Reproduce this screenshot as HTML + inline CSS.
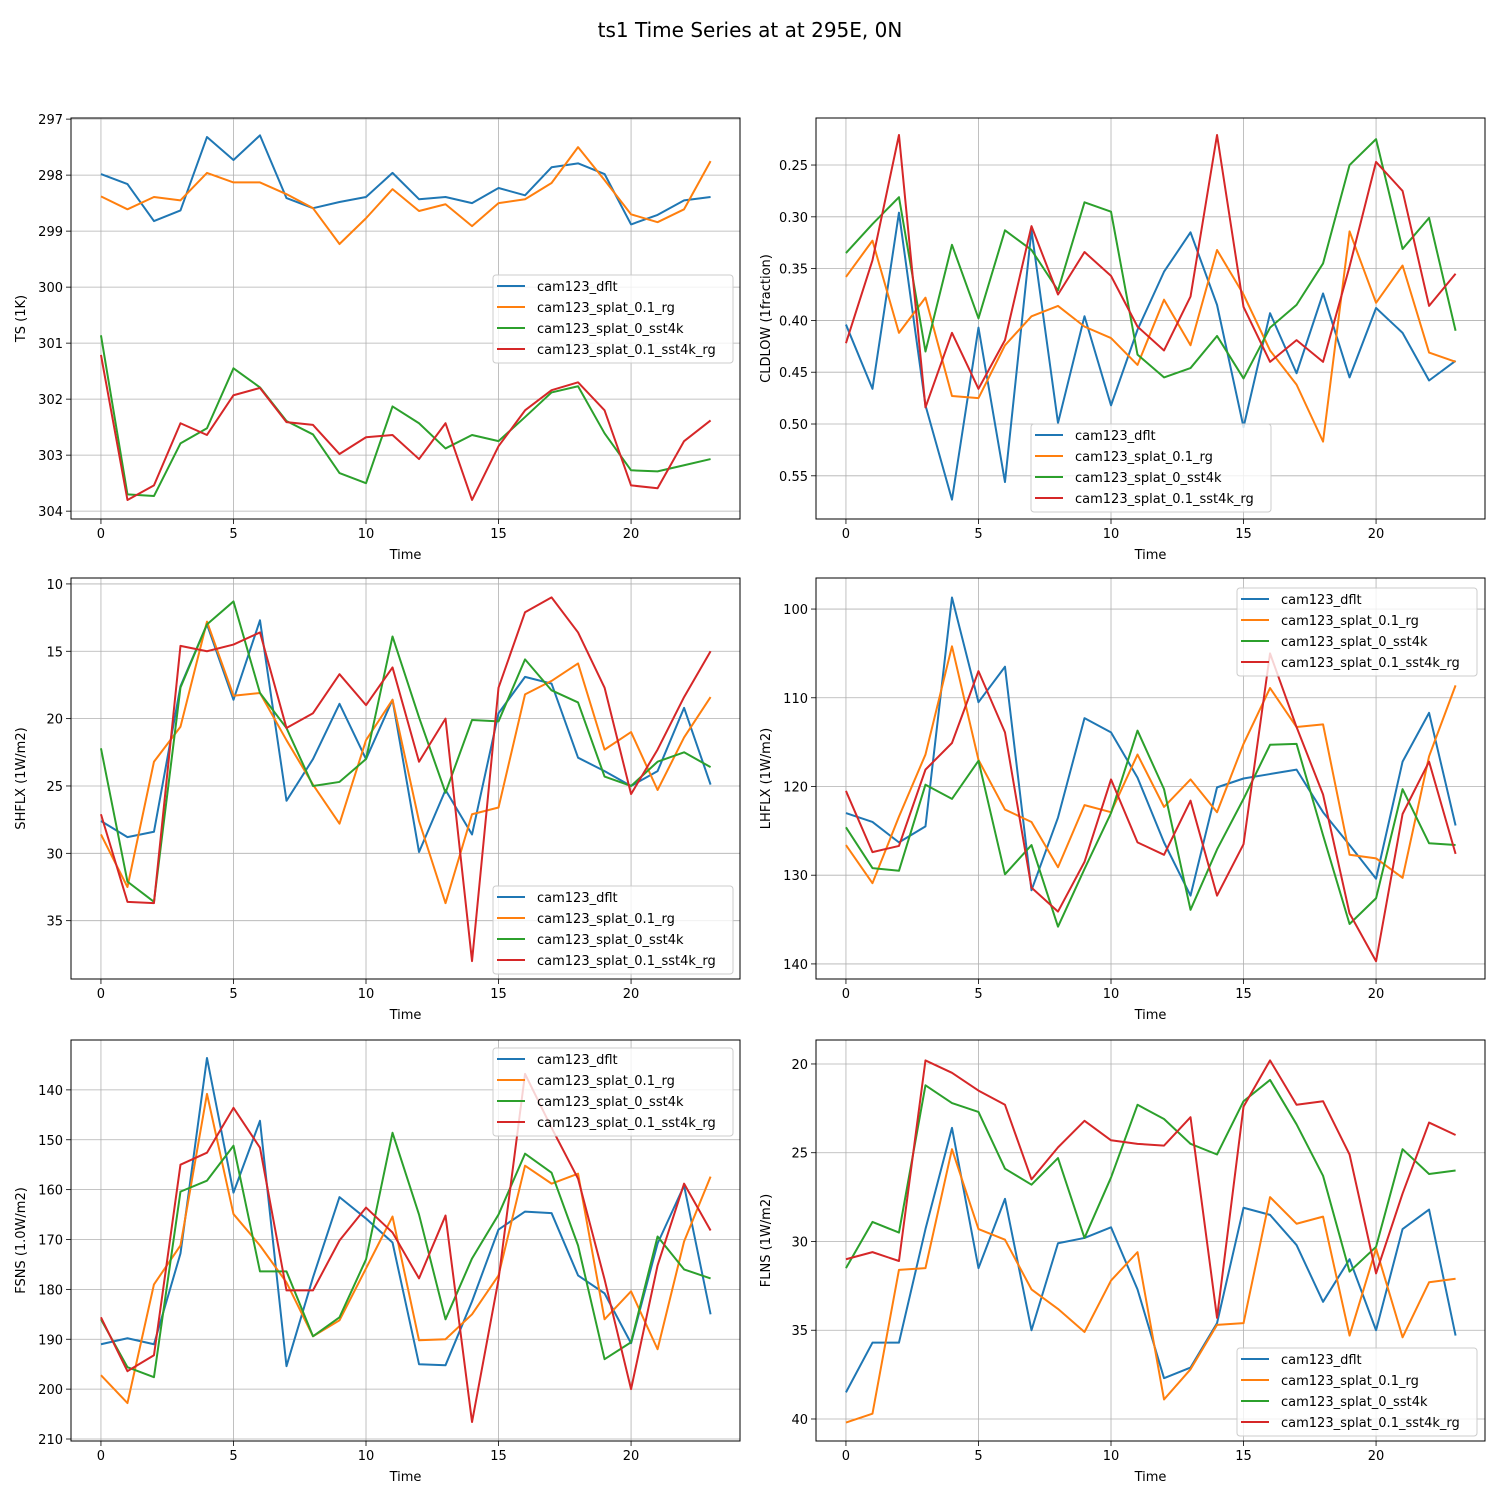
<!DOCTYPE html>
<html><head><meta charset="utf-8"><style>
body{margin:0;background:#fff;}
svg text{font-family:"DejaVu Sans","Liberation Sans",sans-serif;fill:#000;}
</style></head><body>
<svg id="fig" width="1500" height="1500" xmlns="http://www.w3.org/2000/svg">
<rect width="1500" height="1500" fill="#fff"/>
<text x="750" y="37" font-size="20" text-anchor="middle">ts1 Time Series at at 295E, 0N</text>
</svg>
<script>
const seriesNames = ["cam123_dflt","cam123_splat_0.1_rg","cam123_splat_0_sst4k","cam123_splat_0.1_sst4k_rg"];
const colors = ["#1f77b4","#ff7f0e","#2ca02c","#d62728"];
const timeSteps = [0,1,2,3,4,5,6,7,8,9,10,11,12,13,14,15,16,17,18,19,20,21,22,23];
const xTicks = [0,5,10,15,20];

const tsDflt = [297.98,298.16,298.82,298.63,297.32,297.73,297.29,298.41,298.59,298.48,298.39,297.96,298.43,298.39,298.5,298.23,298.36,297.86,297.79,297.98,298.88,298.71,298.45,298.39];
const tsRg = [298.38,298.61,298.39,298.45,297.96,298.13,298.13,298.34,298.59,299.23,298.77,298.25,298.64,298.52,298.91,298.5,298.43,298.14,297.5,298.09,298.7,298.84,298.61,297.75];
const tsSst4k = [300.86,303.70,303.73,302.79,302.52,301.45,301.79,302.39,302.63,303.32,303.5,302.13,302.43,302.88,302.64,302.75,302.32,301.88,301.77,302.61,303.27,303.29,303.18,303.07];
const tsSst4kRg = [301.21,303.80,303.54,302.43,302.64,301.93,301.80,302.41,302.46,302.98,302.68,302.64,303.07,302.43,303.8,302.84,302.2,301.84,301.7,302.2,303.54,303.59,302.75,302.38];

const cldDflt = [0.404,0.466,0.296,0.482,0.573,0.407,0.556,0.313,0.499,0.396,0.482,0.409,0.353,0.315,0.385,0.503,0.393,0.451,0.374,0.455,0.388,0.412,0.458,0.439];
const cldRg = [0.358,0.323,0.412,0.378,0.473,0.475,0.424,0.396,0.386,0.406,0.417,0.443,0.380,0.424,0.332,0.375,0.429,0.462,0.517,0.314,0.383,0.347,0.431,0.440];
const cldSst4k = [0.335,0.307,0.281,0.430,0.327,0.398,0.313,0.332,0.371,0.286,0.295,0.433,0.455,0.446,0.415,0.456,0.407,0.385,0.345,0.25,0.225,0.331,0.301,0.410];
const cldSst4kRg = [0.422,0.342,0.221,0.484,0.412,0.466,0.419,0.309,0.375,0.334,0.357,0.406,0.429,0.377,0.221,0.387,0.440,0.419,0.440,0.348,0.247,0.275,0.386,0.355];

const shDflt = [27.6,28.8,28.4,17.6,13.0,18.6,12.7,26.1,23.0,18.9,23.0,18.6,29.9,25.3,28.6,19.6,16.9,17.4,22.9,23.9,25.0,23.9,19.2,24.9];
const shRg = [28.6,32.5,23.2,20.6,12.8,18.3,18.1,21.6,24.9,27.8,21.6,18.6,27.6,33.7,27.1,26.6,18.2,17.2,15.9,22.3,21.0,25.3,21.4,18.4];
const shSst4k = [22.2,32.1,33.6,17.7,13.0,11.3,18.1,20.7,25.0,24.7,23.0,13.9,19.9,25.5,20.1,20.2,15.6,17.9,18.8,24.3,25.0,23.2,22.5,23.6];
const shSst4kRg = [27.1,33.6,33.7,14.6,15.0,14.5,13.6,20.7,19.6,16.7,19.0,16.2,23.2,20.0,38.0,17.7,12.1,11.0,13.6,17.7,25.6,22.3,18.4,15.0];

const lhDflt = [123.0,124.0,126.3,124.5,98.7,110.5,106.5,131.7,123.5,112.3,113.9,119.0,126.3,132.3,120.1,119.1,118.6,118.1,122.9,126.6,130.4,117.2,111.7,124.4];
const lhRg = [126.6,130.9,123.4,116.4,104.2,117.0,122.6,124.0,129.1,122.1,122.9,116.4,122.3,119.2,122.9,115.2,108.9,113.3,113.0,127.7,128.1,130.3,116.6,108.6];
const lhSst4k = [124.6,129.2,129.5,119.8,121.4,117.1,129.9,126.6,135.8,129.3,123.0,113.7,120.3,133.9,127.1,121.4,115.3,115.2,125.5,135.5,132.6,120.3,126.4,126.6];
const lhSst4kRg = [120.5,127.4,126.7,118.1,115.1,107.0,113.9,131.4,134.1,128.5,119.2,126.3,127.7,121.6,132.3,126.5,105.0,113.3,120.9,134.3,139.7,123.1,117.2,127.6];

const fsDflt = [191.0,189.8,191.0,172.8,133.6,160.6,146.2,195.4,177.6,161.5,165.8,170.6,195.0,195.2,182.4,168.0,164.4,164.7,177.2,180.8,190.8,170.8,159.2,185.0];
const fsRg = [197.2,202.8,179.0,171.2,140.8,164.9,171.2,178.6,189.4,186.2,175.8,165.4,190.2,190.0,185.0,177.2,155.2,158.8,156.8,186.0,180.4,192.0,170.4,157.4];
const fsSst4k = [186.0,195.6,197.6,160.4,158.2,151.2,176.4,176.4,189.4,185.6,174.0,148.6,165.0,186.0,173.8,165.0,152.8,156.6,171.2,194.0,190.6,169.4,176.0,177.8];
const fsSst4kRg = [185.6,196.4,193.2,155.0,152.6,143.6,151.6,180.2,180.2,170.2,163.6,168.6,177.8,165.2,206.6,178.0,136.8,147.6,157.8,178.0,200.0,175.2,158.8,168.2];

const flDflt = [38.5,35.7,35.7,29.3,23.6,31.5,27.6,35.0,30.1,29.8,29.2,32.7,37.7,37.1,34.6,28.1,28.5,30.2,33.4,31.0,35.0,29.3,28.2,35.3];
const flRg = [40.2,39.7,31.6,31.5,24.8,29.3,29.9,32.7,33.8,35.1,32.2,30.6,38.9,37.2,34.7,34.6,27.5,29.0,28.6,35.3,30.4,35.4,32.3,32.1];
const flSst4k = [31.5,28.9,29.5,21.2,22.2,22.7,25.9,26.8,25.3,29.8,26.4,22.3,23.1,24.5,25.1,22.1,20.9,23.4,26.3,31.7,30.3,24.8,26.2,26.0];
const flSst4kRg = [31.0,30.6,31.1,19.8,20.5,21.5,22.3,26.5,24.7,23.2,24.3,24.5,24.6,23.0,34.3,22.4,19.8,22.3,22.1,25.1,31.8,27.3,23.3,24.0];

const tsTicks = [297,298,299,300,301,302,303,304];
const tsTickLabels = ["297","298","299","300","301","302","303","304"];
const cldTicks = [0.25,0.30,0.35,0.40,0.45,0.50,0.55];
const cldTickLabels = ["0.25","0.30","0.35","0.40","0.45","0.50","0.55"];
const shTicks = [10,15,20,25,30,35];
const shTickLabels = ["10","15","20","25","30","35"];
const lhTicks = [100,110,120,130,140];
const lhTickLabels = ["100","110","120","130","140"];
const fsTicks = [140,150,160,170,180,190,200,210];
const fsTickLabels = ["140","150","160","170","180","190","200","210"];
const flTicks = [20,25,30,35,40];
const flTickLabels = ["20","25","30","35","40"];

const NS = "http://www.w3.org/2000/svg";
const svg = document.getElementById("fig");
function mk(tag, attrs, parent){const e=document.createElementNS(NS,tag);for(const k in attrs)e.setAttribute(k,attrs[k]);(parent||svg).appendChild(e);return e;}

const panels = [
 {key:"ts",label:"TS (1K)",series:[tsDflt,tsRg,tsSst4k,tsSst4kRg],ticks:tsTicks,labels:tsTickLabels,ymin:296.98,ymax:304.14,L:71,T:118,leg:[493,275]},
 {key:"cldlow",label:"CLDLOW (1fraction)",series:[cldDflt,cldRg,cldSst4k,cldSst4kRg],ticks:cldTicks,labels:cldTickLabels,ymin:0.2046,ymax:0.5917,L:816,T:118,leg:[1031,424]},
 {key:"shflx",label:"SHFLX (1W/m2)",series:[shDflt,shRg,shSst4k,shSst4kRg],ticks:shTicks,labels:shTickLabels,ymin:9.56,ymax:39.33,L:71,T:578,leg:[493,886]},
 {key:"lhflx",label:"LHFLX (1W/m2)",series:[lhDflt,lhRg,lhSst4k,lhSst4kRg],ticks:lhTicks,labels:lhTickLabels,ymin:96.5,ymax:141.7,L:816,T:578,leg:[1237,588]},
 {key:"fsns",label:"FSNS (1.0W/m2)",series:[fsDflt,fsRg,fsSst4k,fsSst4kRg],ticks:fsTicks,labels:fsTickLabels,ymin:130.0,ymax:210.4,L:71,T:1040,leg:[493,1048]},
 {key:"flns",label:"FLNS (1W/m2)",series:[flDflt,flRg,flSst4k,flSst4kRg],ticks:flTicks,labels:flTickLabels,ymin:18.65,ymax:41.24,L:816,T:1040,leg:[1237,1348]}
];
const W=669,H=401,XMIN=-1.13,XMAX=24.11;

panels.forEach(p=>{
  const g=mk("g",{});
  
  
  const xs=v=>p.L+(v-XMIN)/(XMAX-XMIN)*W;
  const ys=v=>p.T+(v-p.ymin)/(p.ymax-p.ymin)*H; // inverted axis
  xTicks.forEach(t=>{
    const l=mk("line",{x1:xs(t),x2:xs(t),y1:p.T,y2:p.T+H,stroke:"#b0b0b0","stroke-width":0.8},g);
    
    
    const tk=mk("line",{x1:xs(t),x2:xs(t),y1:p.T+H,y2:p.T+H+5,stroke:"#000","stroke-width":0.8},g);
    
    
    const tx=mk("text",{x:xs(t),y:p.T+H+19,"font-size":13,"text-anchor":"middle"},g);
    tx.textContent=t;
    
    
  });
  p.ticks.forEach((t,i)=>{
    const l=mk("line",{x1:p.L,x2:p.L+W,y1:ys(t),y2:ys(t),stroke:"#b0b0b0","stroke-width":0.8},g);
    
    
    const tk=mk("line",{x1:p.L-5,x2:p.L,y1:ys(t),y2:ys(t),stroke:"#000","stroke-width":0.8},g);
    
    
    const tx=mk("text",{x:p.L-8,y:ys(t)+5,"font-size":13,"text-anchor":"end"},g);
    tx.textContent=p.labels[i];
    
    
  });
  const cp=mk("clipPath",{id:"clip-"+p.key},g);
  mk("rect",{x:p.L,y:p.T,width:W,height:H},cp);
  p.series.forEach((s,si)=>{
    const d=s.map((v,i)=>(i?"L":"M")+xs(timeSteps[i]).toFixed(2)+","+ys(v).toFixed(2)).join("");
    const path=mk("path",{d:d,fill:"none",stroke:colors[si],"stroke-width":2,"stroke-linejoin":"round","clip-path":"url(#clip-"+p.key+")"},g);
    
    
  });
  const fr=mk("rect",{x:p.L,y:p.T,width:W,height:H,fill:"none",stroke:"#000","stroke-width":1},g);
  
  
  const xl=mk("text",{x:p.L+W/2,y:p.T+H+40,"font-size":13,"text-anchor":"middle"},g);
  xl.textContent="Time";
  
  
  const lx=p.L-46, ly=p.T+H/2;
  const yl=mk("text",{x:lx,y:ly,"font-size":13,"text-anchor":"middle",transform:"rotate(-90 "+lx+" "+ly+")"},g);
  yl.textContent=p.label;
  
  
  const [lx0,ly0]=p.leg;
  const lg=mk("g",{},g);
  
  
  mk("rect",{x:lx0,y:ly0,width:240,height:88,rx:3,fill:"#fff","fill-opacity":0.8,stroke:"#cccccc","stroke-width":1},lg);
  seriesNames.forEach((n,i)=>{
    const yy=ly0+11+i*21;
    const e=mk("g",{},lg);
    
    
    mk("line",{x1:lx0+4,x2:lx0+32,y1:yy,y2:yy,stroke:colors[i],"stroke-width":2},e);
    const t=mk("text",{x:lx0+44,y:yy+5,"font-size":13},e);
    t.textContent=n;
  });
});
</script>
</body></html>
